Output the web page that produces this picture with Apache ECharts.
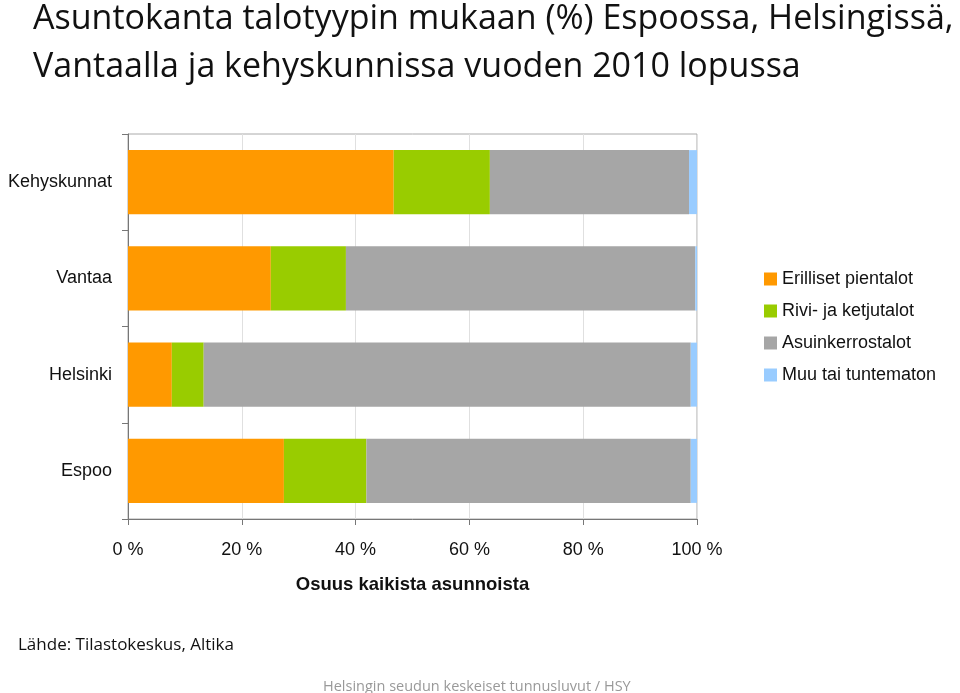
<!DOCTYPE html>
<html>
<head>
<meta charset="utf-8">
<script src="https://cdn.jsdelivr.net/npm/echarts@6/dist/echarts.min.js"></script>
<style>html,body{margin:0;padding:0;background:#fff}#c{width:960px;height:693px}</style>
</head>
<body>
<div id="c"></div>
<script>
var categories = ['Espoo', 'Helsinki', 'Vantaa', 'Kehyskunnat'];
var seriesNames = ['Erilliset pientalot', 'Rivi- ja ketjutalot', 'Asuinkerrostalot', 'Muu tai tuntematon'];
var erilliset = [27.4, 7.7, 25.1, 46.7];
var rivi = [14.5, 5.6, 13.2, 16.9];
var kerros = [57.0, 85.6, 61.4, 35.0];
var muu = [1.1, 1.1, 0.3, 1.4];
var xTicks = [0, 20, 40, 60, 80, 100];
var colors = ['#FF9900', '#99CC00', '#A6A6A6', '#99CCFF'];

var chart = echarts.init(document.getElementById('c'));
var values = [erilliset, rivi, kerros, muu];
var series = values.map(function (v, i) {
  return {
    name: seriesNames[i], type: 'bar', stack: 'total', data: v,
    barWidth: '66.5%', itemStyle: { color: colors[i] }, emphasis: { disabled: true }
  };
});
chart.setOption({
  animation: false,
  title: [
    { text: 'Asuntokanta talotyypin mukaan (%) Espoossa, Helsingissä,\nVantaalla ja kehyskunnissa vuoden 2010 lopussa',
      left: 33, top: -5, padding: 0,
      textStyle: { fontFamily: 'Open Sans', fontWeight: 'normal', fontSize: 34, lineHeight: 48, color: '#111' } },
    { text: 'Lähde: Tilastokeskus, Altika', left: 18, top: 637, padding: 0,
      textStyle: { fontFamily: 'Open Sans', fontWeight: 'normal', fontSize: 17, color: '#111' } },
    { text: 'Helsingin seudun keskeiset tunnusluvut / HSY', left: 323, top: 679, padding: 0,
      textStyle: { fontFamily: 'Open Sans', fontWeight: 'normal', fontSize: 14.5, color: '#999' } }
  ],
  legend: {
    orient: 'vertical', left: 764, top: 270, padding: 0, itemWidth: 13, itemHeight: 13, itemGap: 14, icon: 'rect',
    textStyle: { fontFamily: 'Liberation Sans', fontSize: 18, color: '#111', padding: [0, 0, 0, 0] },
    data: seriesNames
  },
  grid: { left: 128, right: 263, top: 134, bottom: 174, show: true, borderColor: '#aaa', borderWidth: 1 },
  xAxis: {
    type: 'value', min: xTicks[0], max: xTicks[xTicks.length - 1], interval: 20,
    name: 'Osuus kaikista asunnoista', nameLocation: 'middle', nameGap: 56,
    nameTextStyle: { fontFamily: 'Liberation Sans', fontSize: 18.5, fontWeight: 'bold', color: '#111' },
    axisLine: { show: true, lineStyle: { color: '#777' } },
    axisTick: { show: true, length: 6, lineStyle: { color: '#777' } },
    splitLine: { show: true, lineStyle: { color: '#e0e0e0' } },
    axisLabel: { formatter: '{value} %', margin: 22, fontFamily: 'Liberation Sans', fontSize: 18, color: '#111' }
  },
  yAxis: {
    type: 'category', data: categories,
    axisLine: { show: true, lineStyle: { color: '#777' } },
    axisTick: { show: true, length: 6, lineStyle: { color: '#777' } },
    axisLabel: { margin: 16, fontFamily: 'Liberation Sans', fontSize: 18, color: '#111' }
  },
  series: series
});
</script>
</body>
</html>
